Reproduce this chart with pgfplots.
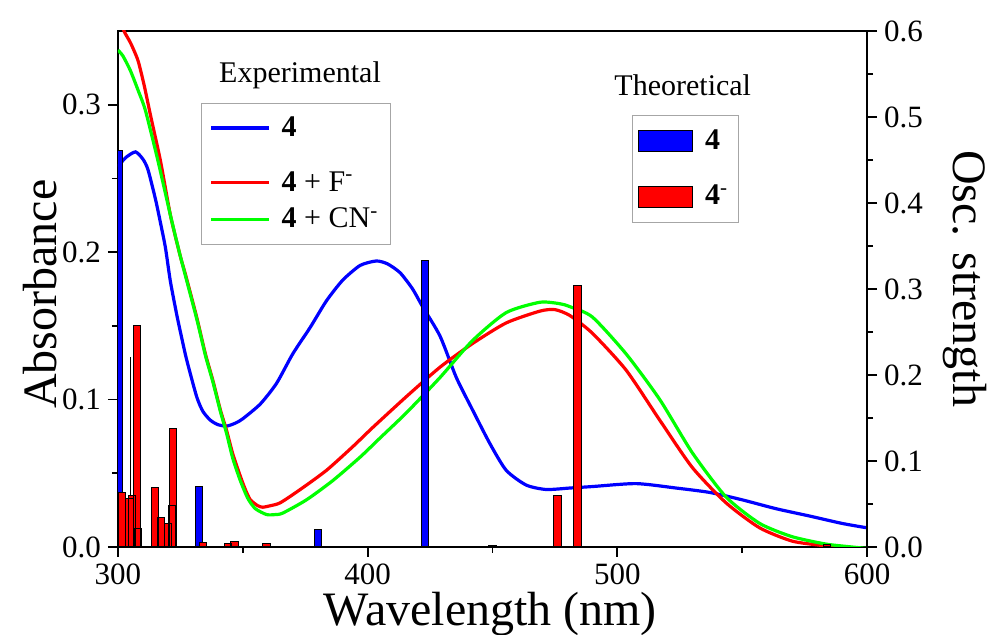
\documentclass[border=0pt]{standalone}
\usepackage{fontspec}
\setmainfont{Liberation Serif}
\usepackage{pgfplots}
\pgfplotsset{compat=1.18}

\definecolor{cblue}{RGB}{0,0,255}
\definecolor{cred}{RGB}{255,0,0}
\definecolor{cgreen}{RGB}{0,255,0}

\pgfplotsset{
  common/.style={
    scale only axis, width=374.5pt, height=258pt,
    xmin=300, xmax=600,
    tick align=outside,
    major tick length=5pt, minor tick length=3pt,
    every tick/.style={line width=0.9pt, black},
    tick label style={font=\fontsize{15.5}{17}\selectfont\rmfamily},
    /pgf/number format/assume math mode=true,
    axis line style={line width=1pt},
    label style={font=\fontsize{24}{28}\selectfont},
  },
  barlegend/.style={legend image code/.code={\draw[##1] (0pt,-5.25pt) rectangle (27pt,5.25pt);}},
  linelegend/.style={legend image code/.code={\draw[##1] (0pt,0pt) -- (29pt,0pt);}},
}

\begin{document}
\begin{tikzpicture}
\begin{axis}[common,
    ymin=0, ymax=0.35,
    xtick={300,400,500,600}, minor x tick num=1,
    ytick={0,0.1,0.2,0.3}, minor y tick num=1,
    xtick pos=left, ytick pos=left,
    yticklabel style={/pgf/number format/.cd, fixed, fixed zerofill, precision=1},
    xlabel={Wavelength (nm)}, ylabel={Absorbance},
    xlabel style={at={(axis description cs:0.497,-0.129)}, anchor=center},
    ylabel style={at={(axis description cs:-0.104,0.49)}, anchor=center},
    legend style={at={(0.111,0.860)}, anchor=north west, draw=gray!70,
      font=\fontsize{15}{18}\selectfont, row sep=3pt, column sep=3.5pt,
      inner xsep=4pt, inner ysep=4.5pt},
    legend cell align=left,
    linelegend,
  ]
  % compound 4
  \addplot[cblue, line width=1.6pt, smooth, tension=0.4] coordinates {
    (300,0.258) (303,0.264) (307,0.268) (310,0.263) (312,0.256) (315,0.236)
    (317,0.220) (319,0.203) (321,0.180) (323.6,0.157) (325.5,0.142) (327.5,0.127)
    (331.5,0.102) (334,0.092) (337,0.086) (340,0.083) (343.5,0.082) (347,0.084)
    (350,0.087) (357,0.097) (363.5,0.111) (370,0.131) (377,0.149) (383.5,0.167)
    (390,0.181) (397,0.191) (403.5,0.194) (408,0.192) (413,0.186) (418,0.175)
    (422,0.163) (429,0.143) (435.5,0.115) (442,0.093) (449,0.070) (455.5,0.052)
    (463.5,0.042) (471.5,0.039) (481,0.040) (490,0.041) (507.5,0.043) (523.5,0.040)
    (537,0.037) (550,0.032) (563.5,0.026) (577,0.021) (590,0.016) (600,0.013)
  };
  \addlegendentry{\textbf{4}}
  % spacer row: the first entry stands apart from the other two
  \addlegendimage{empty legend}
  \addlegendentry{\rule{0pt}{0.5pt}}
  % 4 + F-
  \addplot[cred, line width=1.6pt, smooth, tension=0.4] coordinates {
    (300,0.362) (302.4,0.350) (305,0.342) (308,0.330) (310.5,0.313) (313,0.293)
    (317,0.262) (321,0.225) (325,0.197) (327,0.185) (331.5,0.156) (335,0.131)
    (338,0.113) (341,0.093) (343.5,0.079) (346,0.063) (349,0.048) (351,0.039)
    (353,0.032) (356,0.028) (358,0.027) (361,0.028) (365,0.030) (373,0.039)
    (383.5,0.052) (394,0.068) (402,0.081) (415.5,0.102) (429,0.122) (442,0.138)
    (455.5,0.152) (469,0.160) (475,0.161) (481,0.157) (490,0.145) (503.5,0.120)
    (517,0.086) (530,0.054) (543.5,0.030) (557,0.013) (570,0.004) (582,0.001)
    (590,-0.001) (600,-0.002)
  };
  \addlegendentry{\textbf{4} + F\textsuperscript{-}}
  % 4 + CN-
  \addplot[cgreen, line width=1.6pt, smooth, tension=0.4] coordinates {
    (300,0.337) (302,0.333) (305,0.323) (308,0.310) (311,0.296) (316,0.262)
    (321,0.225) (325,0.197) (331.5,0.155) (335,0.130) (338,0.112) (341,0.092)
    (343.5,0.077) (346,0.060) (349,0.045) (352,0.033) (355,0.026) (359.5,0.022)
    (363,0.022) (366,0.023) (375.5,0.032) (386,0.045) (397,0.061) (405,0.074)
    (415.5,0.091) (429,0.115) (442,0.140) (455.5,0.159) (469,0.166) (477,0.165)
    (481,0.163) (490,0.156) (503.5,0.131) (517,0.100) (530,0.064) (543.5,0.034)
    (557,0.016) (570,0.007) (583.5,0.002) (594,0.0) (600,-0.001)
  };
  \addlegendentry{\textbf{4} + CN\textsuperscript{-}}
  \node[font=\fontsize{15}{18}\selectfont] at (rel axis cs:0.243,0.915) {Experimental};
  \node[font=\fontsize{15}{18}\selectfont] at (rel axis cs:0.754,0.895) {Theoretical};
\end{axis}

\begin{axis}[common,
    axis x line=none, axis y line*=right,
    ymin=0, ymax=0.6,
    ytick={0,0.1,0.2,0.3,0.4,0.5,0.6}, minor y tick num=1,
    yticklabel style={/pgf/number format/.cd, fixed, fixed zerofill, precision=1},
    ylabel={Osc. strength},
    ylabel style={at={(axis description cs:1.131,0.52)}, anchor=center, rotate=180},
    legend style={at={(0.686,0.837)}, anchor=north west, draw=gray!70,
      font=\fontsize{15}{18}\selectfont, row sep=12.5pt, column sep=4pt,
      inner xsep=3pt, inner ysep=5pt},
    legend cell align=left,
  ]
  % calculated transitions, 4
  \addplot[ybar, bar width=2.9, bar shift=0pt, fill=cblue, draw=black, line width=0.5pt,
    barlegend] coordinates {
    (300.3,0.461) (332.4,0.070) (380.0,0.020) (423.0,0.333) (450.0,0.002)
  };
  \addlegendentry{\textbf{4}}
  \addplot[ybar, bar width=0.3, bar shift=0pt, fill=black, draw=black, line width=0.4pt,
    forget plot] coordinates {(305.0,0.220)};
  % calculated transitions, 4-
  \addplot[ybar, bar width=3.0, bar shift=0pt, fill=cred, draw=black, line width=0.5pt,
    barlegend] coordinates {
    (301.5,0.063) (305.6,0.060) (304.7,0.056) (307.6,0.258) (308.1,0.022)
    (317.2,0.034) (314.9,0.069) (320.1,0.0275) (322.0,0.138) (321.7,0.048)
    (334.0,0.005) (344.0,0.004) (346.7,0.006) (359.5,0.004)
    (476.0,0.060) (484.0,0.304) (584.0,0.003)
  };
  \addlegendentry{\textbf{4}\textsuperscript{-}}
\end{axis}
\pgfresetboundingbox
\path (-59pt,-44pt) rectangle (440.5pt,273.5pt);
\end{tikzpicture}
\end{document}
